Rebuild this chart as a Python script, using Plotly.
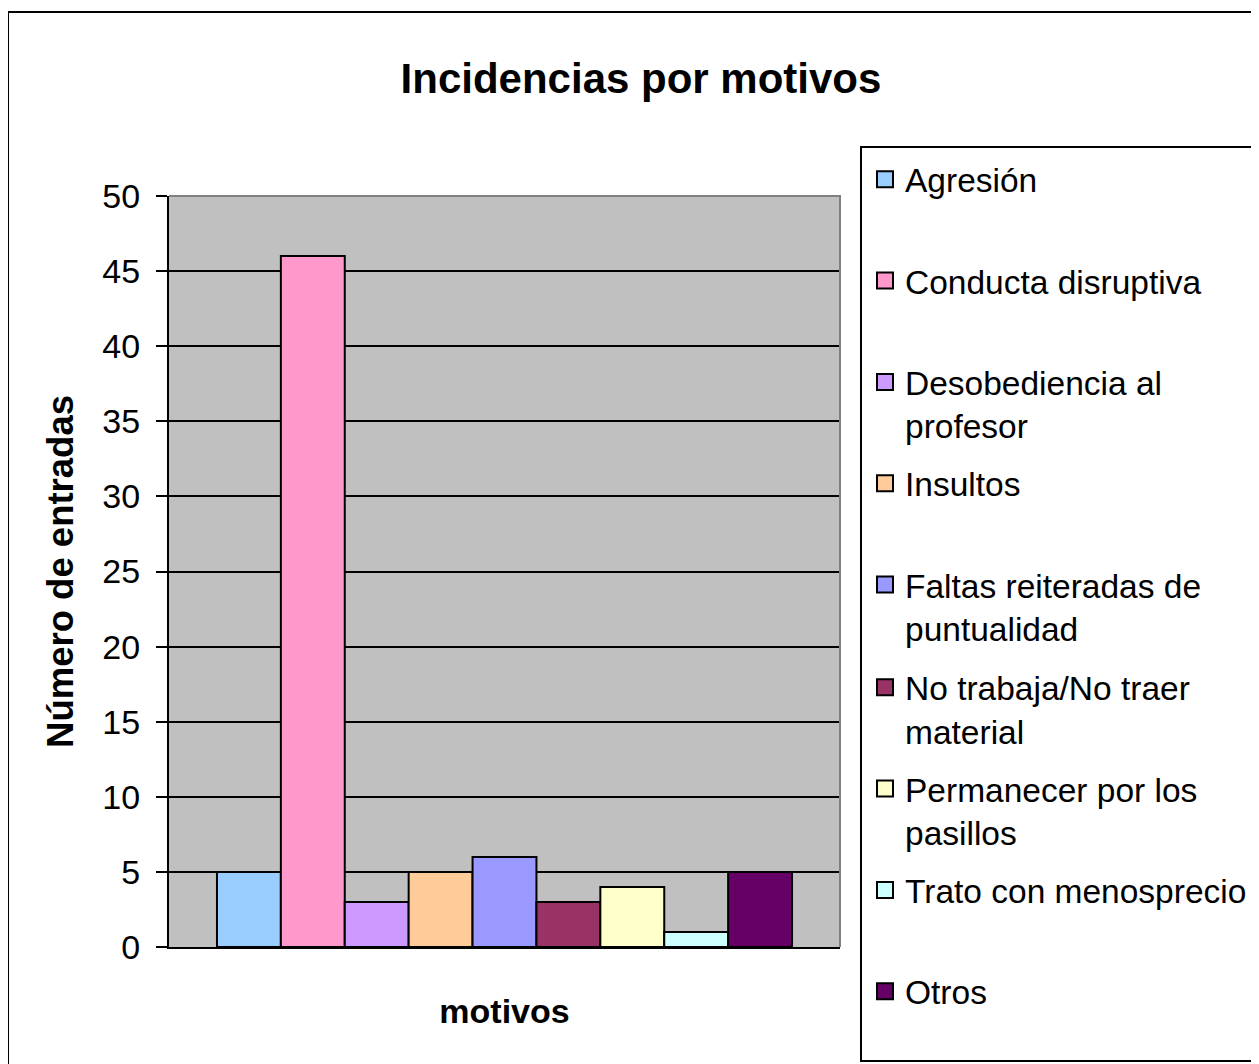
import plotly.graph_objects as go

motivos = [
    'Agresión',
    'Conducta disruptiva',
    'Desobediencia al<br>profesor',
    'Insultos',
    'Faltas reiteradas de<br>puntualidad',
    'No trabaja/No traer<br>material',
    'Permanecer por los<br>pasillos',
    'Trato con menosprecio',
    'Otros',
]
entradas = [5, 46, 3, 5, 6, 3, 4, 1, 5]
colores = ['#99CCFF', '#FF99CC', '#CC99FF', '#FFCC99', '#9999FF',
           '#993366', '#FFFFCC', '#CCFFFF', '#660066']

font_family = 'Arial, Liberation Sans, sans-serif'

# the page body has an 8px margin, so the figure is 8px smaller than the window
W, H = 1251, 1056

fig = go.Figure()
for i, (name, val, col) in enumerate(zip(motivos, entradas, colores)):
    fig.add_trace(go.Bar(
        x=[0], y=[val], name=name.replace('<br>', ' '), showlegend=False,
        marker=dict(color=col, line=dict(color='black', width=2)),
    ))

# legend entries (square swatches like the spreadsheet legend)
for i, (name, col) in enumerate(zip(motivos, colores)):
    # pad single-line names so every legend slot is two lines high
    label = name if '<br>' in name else name + '<br>\u00a0'
    fig.add_trace(go.Scatter(
        x=[None], y=[None], mode='markers', name=label, legendgroup=str(i),
        legend='legend' if i < 5 else 'legend2',
        marker=dict(symbol='square', size=16, color=col,
                    line=dict(color='black', width=2)),
    ))

# paper coords of the plot area: x 169..840 px, y 196..947 px (window pixels)
def px_x(p):
    return (p - 169) / 671

def px_y(p):
    return (947 - p) / 751

shapes = [
    # outer chart frame
    dict(type='rect', xref='paper', yref='paper', x0=px_x(8), x1=px_x(1275),
         y0=px_y(1080), y1=px_y(12), line=dict(color='black', width=2), layer='below'),
    # legend frame
    dict(type='rect', xref='paper', yref='paper', x0=px_x(861), x1=px_x(1275),
         y0=px_y(1061), y1=px_y(147), line=dict(color='black', width=2), layer='below'),
    # gray top/right border of plot area
    dict(type='path', xref='paper', yref='paper', path='M 0,1 L 1,1 L 1,0',
         line=dict(color='#808080', width=2), layer='above'),
]

legend_style = dict(x=px_x(865), xanchor='left', yanchor='top',
                    traceorder='grouped', tracegroupgap=11.2, valign='top',
                    bgcolor='rgba(0,0,0,0)', borderwidth=0, font=dict(size=33.5))

fig.update_layout(
    width=W, height=H,
    margin=dict(l=161, r=419, t=188, b=117, autoexpand=False),
    paper_bgcolor='white', plot_bgcolor='#C0C0C0',
    font=dict(family=font_family, color='black', size=33),
    barmode='group', bargap=0.143, bargroupgap=0,
    title=dict(text='<b>Incidencias por motivos</b>', x=(641 - 8) / W, xanchor='center',
               y=1 - (78 - 8) / H, yanchor='middle', font=dict(size=42)),
    xaxis=dict(range=[-0.5, 0.5], showticklabels=False, showgrid=False, zeroline=False,
               showline=True, linecolor='black', linewidth=2, ticks='',
               title=dict(text='<b>motivos</b>', font=dict(size=34), standoff=51)),
    yaxis=dict(range=[0, 50], dtick=5, showgrid=True, gridcolor='black', gridwidth=1.5,
               zeroline=False, showline=True, linecolor='black', linewidth=2,
               ticks='outside', ticklen=11, tickwidth=2, tickcolor='black',
               tickfont=dict(size=34), ticklabelstandoff=9,
               title=dict(text='<b>Número de entradas</b>', font=dict(size=36.5), standoff=18)),
    legend=dict(y=px_y(151), **legend_style),
    legend2=dict(y=px_y(659), **legend_style),
    shapes=shapes,
)

fig.write_html('out.html')
